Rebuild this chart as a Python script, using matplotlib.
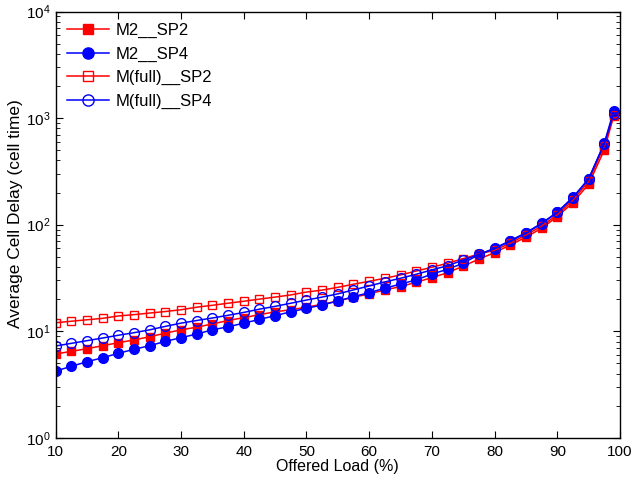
import matplotlib
matplotlib.use("Agg")
import matplotlib.pyplot as plt
from matplotlib.ticker import LogLocator

plt.rcParams['font.family'] = ['Liberation Sans', 'DejaVu Sans']

load = [10, 12.5, 15, 17.5, 20, 22.5, 25, 27.5, 30, 32.5, 35, 37.5, 40, 42.5, 45,
        47.5, 50, 52.5, 55, 57.5, 60, 62.5, 65, 67.5, 70, 72.5, 75, 77.5, 80, 82.5,
        85, 87.5, 90, 92.5, 95, 97.5, 99]

m2_sp2 = [6.11, 6.47, 6.85, 7.31, 7.80, 8.27, 8.88, 9.58, 10.3, 10.9, 11.7, 12.6, 13.4,
          14.3, 15.2, 15.9, 16.8, 17.9, 19.2, 20.8, 22.4, 24.4, 26.2, 28.8, 31.8, 35.4,
          40.8, 47.5, 54.6, 64.5, 76.2, 92.5, 119, 161, 240, 503, 1050]
m2_sp4 = [4.23, 4.68, 5.17, 5.64, 6.20, 6.76, 7.31, 8.03, 8.69, 9.41, 10.3, 11.0, 11.9,
          12.9, 14.0, 15.2, 16.4, 17.6, 19.2, 21.1, 23.0, 25.3, 27.7, 30.3, 34.4, 38.1,
          43.4, 52.5, 60, 70.8, 84, 103, 131, 181, 269, 581, 1175]
mfull_sp2 = [12.0, 12.4, 12.8, 13.2, 13.9, 14.3, 14.8, 15.3, 15.9, 16.8, 17.5, 18.3, 19.1,
             20.0, 20.9, 21.9, 23.3, 24.3, 25.8, 27.6, 29.4, 31.4, 33.7, 36.7, 39.8, 43.4,
             48.0, 53.0, 57.5, 67, 80, 97, 124, 170, 255, 550, 1080]
mfull_sp4 = [7.26, 7.69, 8.15, 8.63, 9.16, 9.68, 10.3, 11.1, 11.9, 12.6, 13.3, 14.1, 15.0,
             16.1, 17.1, 18.3, 19.6, 20.9, 22.4, 24.4, 26.6, 29.0, 31.4, 34.2, 37.6, 41.2,
             46.5, 52.5, 59.5, 70, 83, 102, 130, 178, 268, 575, 1100]

labels = ['M2__SP2', 'M2__SP4', 'M(full)__SP2', 'M(full)__SP4']

fig = plt.figure(figsize=(6.32, 4.8), dpi=100)
ax = fig.add_axes([0.088, 0.088, 0.893, 0.888])

ax.plot(load, m2_sp2, color='red', marker='s', markersize=6, lw=1.1,
        markerfacecolor='red', markeredgecolor='red', label=labels[0])
ax.plot(load, m2_sp4, color='blue', marker='o', markersize=7, lw=1.1,
        markerfacecolor='blue', markeredgecolor='blue', label=labels[1])
ax.plot(load, mfull_sp2, color='red', marker='s', markersize=6, lw=1.1,
        markerfacecolor='none', markeredgecolor='red', label=labels[2])
ax.plot(load, mfull_sp4, color='blue', marker='o', markersize=7, lw=1.1,
        markerfacecolor='none', markeredgecolor='blue', label=labels[3])

ax.set_yscale('log')
ax.set_xlim(10, 100)
ax.set_ylim(1, 1e4)
ax.set_xticks([10, 20, 30, 40, 50, 60, 70, 80, 90, 100])
ax.yaxis.set_major_locator(LogLocator(base=10, numticks=10))
ax.yaxis.set_minor_locator(LogLocator(base=10, subs=range(2, 10), numticks=20))

ax.tick_params(which='both', direction='in', top=True, right=True, labelsize=11)
ax.tick_params(axis='x', pad=5)
ax.tick_params(which='major', length=5, width=0.8)
ax.tick_params(which='minor', length=3, width=0.6)
for s in ax.spines.values():
    s.set_linewidth(1.0)

ax.set_xlabel('Offered Load (%)', fontsize=11.5, labelpad=0)
ax.set_ylabel('Average Cell Delay (cell time)', fontsize=12.5)
ax.yaxis.set_label_coords(-0.058, 0.525)

ax.legend(loc='upper left', frameon=False, fontsize=12, handlelength=2.5,
          borderaxespad=0.3, labelspacing=0.5, handletextpad=0.4,
          markerscale=1.15)

fig.savefig('out.png', dpi=100)
